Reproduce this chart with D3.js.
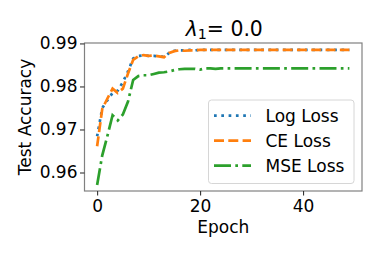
<!DOCTYPE html>
<html><head><meta charset="utf-8">
<script src="https://cdn.jsdelivr.net/npm/d3@7"></script>
<style>body{margin:0;background:#fff}svg{display:block}text{font-family:"DejaVu Sans",sans-serif}</style>
</head><body>
<svg id="c" width="382" height="255"></svg>
<script>
const epochs = [0,1,2,3,4,5,6,7,8,9,10,11,12,13,14,15,16,17,18,19,20,21,22,23,24,25,26,27,28,29,30,31,32,33,34,35,36,37,38,39,40,41,42,43,44,45,46,47,48,49];
const logLoss = [0.9684,0.9750,0.9768,0.9785,0.9790,0.9810,0.9835,0.9865,0.9871,0.9872,0.9871,0.9871,0.9870,0.9869,0.9878,0.9883,0.9884,0.9884,0.9885,0.9884,0.9885,0.9885,0.9885,0.9885,0.9885,0.9885,0.9885,0.9885,0.9885,0.9885,0.9885,0.9885,0.9885,0.9885,0.9885,0.9885,0.9885,0.9885,0.9885,0.9885,0.9885,0.9885,0.9885,0.9885,0.9885,0.9885,0.9885,0.9885,0.9885,0.9885];
const ceLoss = [0.9661,0.9748,0.9772,0.9795,0.9785,0.9795,0.9830,0.9862,0.9870,0.9873,0.9871,0.9872,0.9870,0.9868,0.9878,0.9882,0.9884,0.9883,0.9884,0.9884,0.9885,0.9885,0.9885,0.9885,0.9885,0.9885,0.9885,0.9885,0.9885,0.9885,0.9885,0.9885,0.9885,0.9885,0.9885,0.9885,0.9885,0.9885,0.9885,0.9885,0.9885,0.9885,0.9885,0.9885,0.9885,0.9885,0.9885,0.9885,0.9885,0.9885];
const mseLoss = [0.9571,0.9640,0.9685,0.9733,0.9721,0.9735,0.9765,0.9815,0.9824,0.9826,0.9826,0.9829,0.9832,0.9833,0.9835,0.9838,0.9840,0.9841,0.9841,0.9841,0.9839,0.9842,0.9842,0.9841,0.9842,0.9842,0.9842,0.9842,0.9842,0.9842,0.9842,0.9842,0.9842,0.9842,0.9842,0.9842,0.9842,0.9842,0.9842,0.9842,0.9842,0.9842,0.9842,0.9842,0.9842,0.9842,0.9842,0.9842,0.9842,0.9842];
const seriesNames = ["Log Loss","CE Loss","MSE Loss"];
const xTicks = [0,20,40];
const yTicks = [0.96,0.97,0.98,0.99];

const svg = d3.select("#c");
const L=84.5, R=362, T=43, B=191;
const x = d3.scaleLinear().domain([-2.45,51.45]).range([L,R]);
const y = d3.scaleLinear().domain([0.9557,0.9901]).range([B,T]);
const FS = 17;
const lw = 2.7;
const series = [
  {name:seriesNames[0], vals:logLoss, color:"#1f77b4", dash:"2.7 4.6"},
  {name:seriesNames[1], vals:ceLoss, color:"#ff7f0e", dash:"10 4.3"},
  {name:seriesNames[2], vals:mseLoss, color:"#2ca02c", dash:"17 4.3 2.7 4.3"}
];

const g = svg.append("g");
const line = d3.line().x((d,i)=>x(epochs[i])).y(d=>y(d));
series.forEach(s=>{
  g.append("path").datum(s.vals).attr("d",line).attr("fill","none")
   .attr("stroke",s.color).attr("stroke-width",lw).attr("stroke-dasharray",s.dash);
});

svg.append("rect").attr("x",L).attr("y",T).attr("width",R-L).attr("height",B-T)
  .attr("fill","none").attr("stroke","#808080").attr("stroke-width",1.2);

const xa = svg.append("g").attr("transform",`translate(0,${B})`)
  .call(d3.axisBottom(x).tickValues(xTicks).tickSize(4.5).tickPadding(4).tickFormat(d3.format("d")));
const ya = svg.append("g").attr("transform",`translate(${L},0)`)
  .call(d3.axisLeft(y).tickValues(yTicks).tickSize(4.5).tickPadding(2.5).tickFormat(d3.format(".2f")));
[xa,ya].forEach(a=>{
  a.select(".domain").remove();
  a.selectAll(".tick line").attr("stroke","#333").attr("stroke-width",1.1);
  a.selectAll(".tick text").attr("font-size",FS).attr("fill","#000").attr("font-family","DejaVu Sans");
});

svg.append("text").attr("x",(L+R)/2).attr("y",232.5).attr("text-anchor","middle")
  .attr("font-size",FS).text("Epoch");
svg.append("text").attr("transform",`translate(31,${(T+B)/2}) rotate(-90)`).attr("text-anchor","middle")
  .attr("font-size",FS).text("Test Accuracy");
const title = svg.append("text").attr("x",(L+R)/2+1).attr("y",35.5).attr("text-anchor","middle").attr("font-size",20.4);
title.append("tspan").attr("font-style","italic").text("λ");
title.append("tspan").attr("font-size",14.3).attr("dy",3.5).text("1");
title.append("tspan").attr("dy",-3.5).text("= 0.0");

const lg = svg.append("g");
lg.append("rect").attr("x",208.5).attr("y",100).attr("width",145.5).attr("height",83.5).attr("rx",3)
  .attr("fill","#fff").attr("fill-opacity",0.8).attr("stroke","#d6d6d6").attr("stroke-width",1);
series.forEach((s,i)=>{
  const cy = 115.7 + i*25;
  lg.append("line").attr("x1",214).attr("x2",251).attr("y1",cy).attr("y2",cy)
    .attr("stroke",s.color).attr("stroke-width",lw).attr("stroke-dasharray",s.dash);
  lg.append("text").attr("x",265.5).attr("y",cy+6).attr("font-size",FS).text(s.name);
});
</script>
</body></html>
